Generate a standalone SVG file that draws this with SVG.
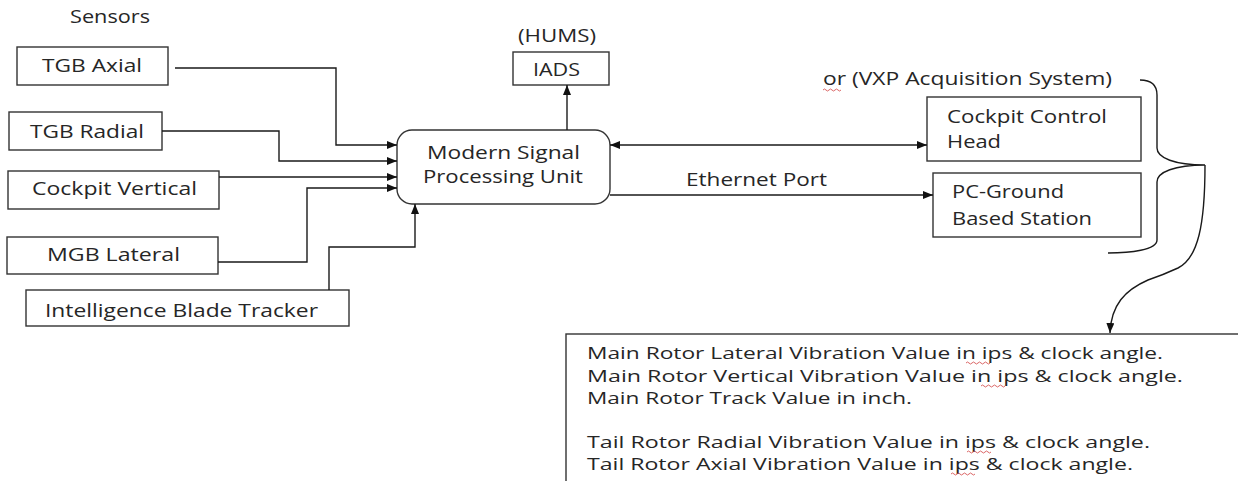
<svg xmlns="http://www.w3.org/2000/svg" width="1238" height="481" viewBox="0 0 1238 481">
<style>
.bx{fill:#fff;stroke:#333;stroke-width:1.4}
.t{font-family:"Open Sans","Liberation Sans",sans-serif;fill:#262626}
.lb{font-size:18px}
.bd{font-size:15.5px}
.cn{fill:none;stroke:#1a1a1a;stroke-width:1.4}
.sq{fill:none;stroke:#d04040;stroke-width:0.8}
</style>
<defs>
<marker id="ah" markerUnits="userSpaceOnUse" markerWidth="11" markerHeight="9" refX="10" refY="4" orient="auto-start-reverse">
<path d="M0,0 L10,4 L0,8 z" fill="#111"/>
</marker>
</defs>
<rect width="1238" height="481" fill="#fff"/>
<text class="t lb" x="70" y="23" textLength="80" lengthAdjust="spacingAndGlyphs">Sensors</text>
<text class="t lb" x="518" y="42" textLength="78" lengthAdjust="spacingAndGlyphs">(HUMS)</text>
<text class="t lb" x="823" y="85" textLength="289" lengthAdjust="spacingAndGlyphs">or (VXP Acquisition System)</text>
<path class="sq" d="M823,90 q1.5,-2 3,0 t3,0 t3,0 t3,0 t3,0 t3,0"/>
<text class="t lb" x="686" y="186" textLength="141" lengthAdjust="spacingAndGlyphs">Ethernet Port</text>

<g id="tgb-axial"><rect class="bx" x="17" y="47" width="151" height="38"/><text class="t lb" x="42" y="72" textLength="100" lengthAdjust="spacingAndGlyphs">TGB Axial</text></g>
<g id="tgb-radial"><rect class="bx" x="9" y="112" width="153" height="38"/><text class="t lb" x="30" y="138" textLength="114" lengthAdjust="spacingAndGlyphs">TGB Radial</text></g>
<g id="cockpit-vertical"><rect class="bx" x="8" y="171" width="211" height="38"/><text class="t lb" x="32" y="195" textLength="165" lengthAdjust="spacingAndGlyphs">Cockpit Vertical</text></g>
<g id="mgb-lateral"><rect class="bx" x="7" y="237" width="211" height="37"/><text class="t lb" x="47" y="261" textLength="133" lengthAdjust="spacingAndGlyphs">MGB Lateral</text></g>
<g id="blade-tracker"><rect class="bx" x="26" y="290" width="323" height="36"/><text class="t lb" x="45" y="317" textLength="273" lengthAdjust="spacingAndGlyphs">Intelligence Blade Tracker</text></g>
<g id="mspu"><rect class="bx" x="397" y="130" width="213" height="74" rx="15"/><text class="t lb" x="427" y="159" textLength="153" lengthAdjust="spacingAndGlyphs">Modern Signal</text><text class="t lb" x="423" y="183" textLength="160" lengthAdjust="spacingAndGlyphs">Processing Unit</text></g>
<g id="iads"><rect class="bx" x="513" y="52" width="96" height="33"/><text class="t lb" x="533" y="76" textLength="47" lengthAdjust="spacingAndGlyphs">IADS</text></g>
<g id="cockpit-control-head"><rect class="bx" x="927" y="97" width="214" height="64"/><text class="t lb" x="947" y="123" textLength="160" lengthAdjust="spacingAndGlyphs">Cockpit Control</text><text class="t lb" x="947" y="148" textLength="54" lengthAdjust="spacingAndGlyphs">Head</text></g>
<g id="pc-ground"><rect class="bx" x="933" y="173" width="208" height="64"/><text class="t lb" x="952" y="198" textLength="112" lengthAdjust="spacingAndGlyphs">PC-Ground</text><text class="t lb" x="952" y="225" textLength="140" lengthAdjust="spacingAndGlyphs">Based Station</text></g>
<g id="output-values">
<rect class="bx" x="566" y="334" width="700" height="200"/>
<text class="t bd" x="587" y="359" textLength="576" lengthAdjust="spacingAndGlyphs">Main Rotor Lateral Vibration Value in ips &amp; clock angle.</text>
<text class="t bd" x="587" y="382" textLength="596" lengthAdjust="spacingAndGlyphs">Main Rotor Vertical Vibration Value in ips &amp; clock angle.</text>
<text class="t bd" x="587" y="404" textLength="325" lengthAdjust="spacingAndGlyphs">Main Rotor Track Value in inch.</text>
<text class="t bd" x="587" y="448" textLength="563" lengthAdjust="spacingAndGlyphs">Tail Rotor Radial Vibration Value in ips &amp; clock angle.</text>
<text class="t bd" x="587" y="470" textLength="546" lengthAdjust="spacingAndGlyphs">Tail Rotor Axial Vibration Value in ips &amp; clock angle.</text>
<path class="sq" d="M966,363 q1.5,-2 3,0 t3,0 t3,0 t3,0 t3,0 t3,0 t3,0 t3,0"/>
<path class="sq" d="M981,386 q1.5,-2 3,0 t3,0 t3,0 t3,0 t3,0 t3,0 t3,0 t3,0"/>
<path class="sq" d="M967,452 q1.5,-2 3,0 t3,0 t3,0 t3,0 t3,0 t3,0 t3,0 t3,0"/>
<path class="sq" d="M951,474 q1.5,-2 3,0 t3,0 t3,0 t3,0 t3,0 t3,0 t3,0 t3,0"/>
</g>

<g id="connectors">
<path class="cn" d="M175,68 H336 V145 H397" marker-end="url(#ah)"/>
<path class="cn" d="M162,131 H279 V161 H397" marker-end="url(#ah)"/>
<path class="cn" d="M219,177 H397" marker-end="url(#ah)"/>
<path class="cn" d="M218,262 H307 V188 H397" marker-end="url(#ah)"/>
<path class="cn" d="M329,290 V247 H415 V204" marker-end="url(#ah)"/>
<path class="cn" d="M567,130 V85" marker-end="url(#ah)"/>
<path class="cn" d="M610,145 H927" marker-start="url(#ah)" marker-end="url(#ah)"/>
<path class="cn" d="M610,195 H933" marker-end="url(#ah)"/>
<path class="cn" d="M1140,80 C1152,80 1157,86 1157,95 L1157,148 C1157,158 1175,165 1205,165 C1175,165 1157,172 1157,182 L1157,240 C1157,250 1130,253 1108,253"/>
<path class="cn" d="M1205,165 C1205,225 1198,258 1178,268 C1165,274 1160,276 1148,280 C1125,290 1111,305 1110,333" marker-end="url(#ah)"/>
</g>
</svg>
